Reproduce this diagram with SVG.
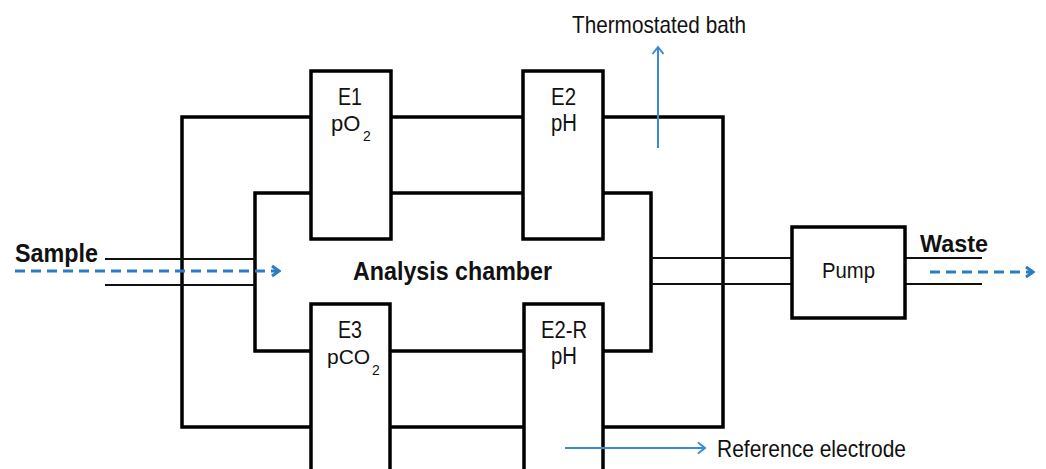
<svg xmlns="http://www.w3.org/2000/svg" width="1046" height="469" viewBox="0 0 1046 469">
<style>
text{font-family:"Liberation Sans",Arial,sans-serif;fill:#111}
.b{font-weight:bold}
.lbl{font-size:23px}
.sub{font-size:14px}
.ann{font-size:24px}
.box{fill:none;stroke:#000;stroke-width:3.5}
.wall{fill:none;stroke:#000;stroke-width:3.5;stroke-linejoin:miter}
.pipe{fill:none;stroke:#111;stroke-width:2}
.dash{fill:none;stroke:#2B7CC6;stroke-width:3;stroke-dasharray:10 6}
.thin{fill:none;stroke:#3A8BD6;stroke-width:2}
</style>
<defs>
<marker id="ah" viewBox="0 0 12 14" refX="10" refY="7" markerWidth="12" markerHeight="14" markerUnits="userSpaceOnUse" orient="auto">
<path d="M3,1.5 L10,7 L3,12.5" fill="none" stroke="#3A8BD6" stroke-width="2"/>
</marker>
<marker id="ahd" viewBox="0 0 12 14" refX="10" refY="7" markerWidth="12" markerHeight="14" markerUnits="userSpaceOnUse" orient="auto">
<path d="M3,2 L10,7 L3,12" fill="none" stroke="#2B7CC6" stroke-width="3"/>
</marker>
</defs>
<rect width="1046" height="469" fill="#fff"/>
<g id="connectors">
<path class="wall" d="M311,117 H182 V427 H311"/>
<path class="wall" d="M311,193 H255 V351 H311"/>
<path class="wall" d="M391,117 H523"/>
<path class="wall" d="M391,193 H523"/>
<path class="wall" d="M603,117 H723 V427 H603"/>
<path class="wall" d="M603,193 H651 V351 H603"/>
<path class="wall" d="M390,351 H524"/>
<path class="wall" d="M390,427 H524"/>
<path class="pipe" d="M105,259 H255 M105,285 H255"/>
<path class="pipe" d="M651,258 H792 M651,284 H792"/>
<path class="pipe" d="M905,258 H982 M905,284 H982"/>
<path class="dash" d="M15,271 H279" marker-end="url(#ahd)"/>
<path class="dash" d="M930,272 H1033" marker-end="url(#ahd)"/>
<path class="thin" d="M658,148 V47" marker-end="url(#ah)"/>
</g>
<g id="E1">
<rect class="box" x="311" y="71" width="80" height="168"/>
<text class="lbl" x="338" y="105" textLength="24" lengthAdjust="spacingAndGlyphs">E1</text>
<text x="331" y="131" font-size="22">pO<tspan class="sub" x="363" dy="10">2</tspan></text>
</g>
<g id="E2">
<rect class="box" x="523" y="71" width="80" height="168"/>
<text class="lbl" x="551" y="105" textLength="25" lengthAdjust="spacingAndGlyphs">E2</text>
<text class="lbl" x="551" y="131" textLength="26" lengthAdjust="spacingAndGlyphs">pH</text>
</g>
<g id="E3">
<rect class="box" x="311" y="304" width="79" height="180"/>
<text class="lbl" x="338" y="338" textLength="24" lengthAdjust="spacingAndGlyphs">E3</text>
<text x="327" y="364" font-size="21">pCO<tspan class="sub" x="372" dy="11">2</tspan></text>
</g>
<g id="E2R">
<rect class="box" x="524" y="304" width="79" height="180"/>
<text class="lbl" x="541" y="338" textLength="46" lengthAdjust="spacingAndGlyphs">E2-R</text>
<text class="lbl" x="551" y="364" textLength="26" lengthAdjust="spacingAndGlyphs">pH</text>
</g>
<g id="pump">
<rect class="box" x="792" y="227" width="113" height="91"/>
<text x="822" y="278" font-size="22" textLength="53" lengthAdjust="spacingAndGlyphs">Pump</text>
</g>
<g id="chamber">
<text class="b" x="353" y="280" font-size="25" textLength="199" lengthAdjust="spacingAndGlyphs">Analysis chamber</text>
</g>
<g id="sample">
<text class="b" x="15" y="262" font-size="25" textLength="83" lengthAdjust="spacingAndGlyphs">Sample</text>
</g>
<g id="waste">
<text class="b" x="920" y="252" font-size="24" textLength="68" lengthAdjust="spacingAndGlyphs">Waste</text>
</g>
<g id="bath">
<text class="ann" x="572" y="33" textLength="174" lengthAdjust="spacingAndGlyphs">Thermostated bath</text>
</g>
<g id="refelectrode">
<path class="thin" d="M565,448 H705" marker-end="url(#ah)"/>
<text class="ann" x="717" y="457" textLength="189" lengthAdjust="spacingAndGlyphs">Reference electrode</text>
</g>
</svg>
